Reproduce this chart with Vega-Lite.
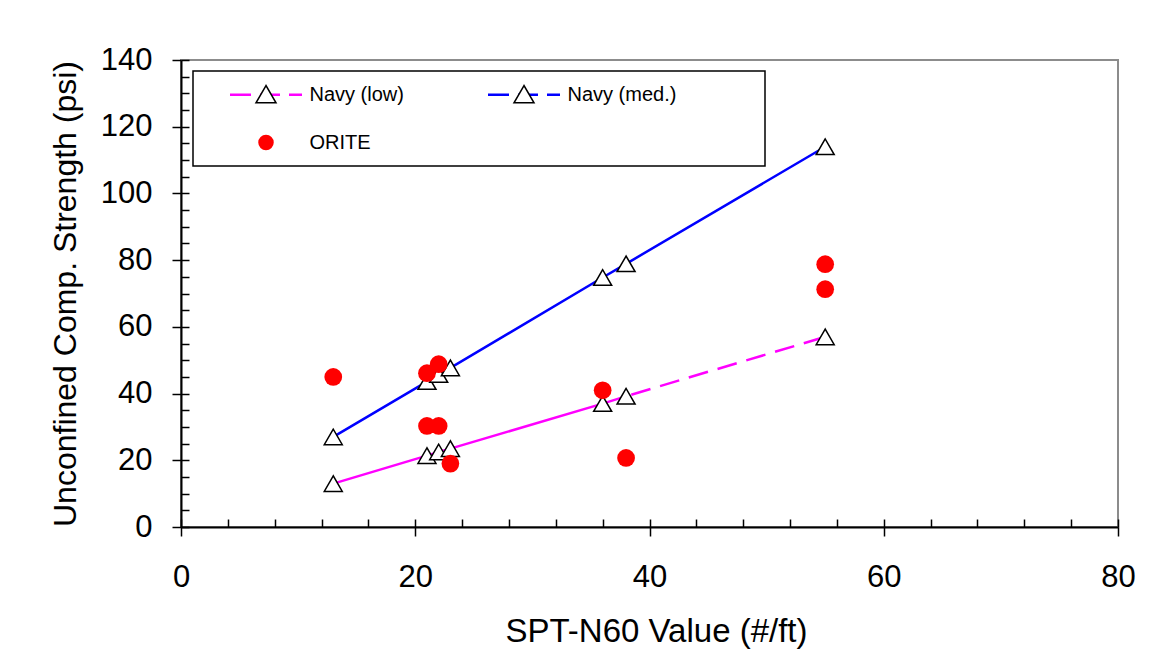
{
  "$schema": "https://vega.github.io/schema/vega-lite/v6.json",
  "width": 937,
  "height": 467,
  "autosize": {"type": "none"},
  "padding": {"left": 181, "top": 60, "right": 38, "bottom": 141},
  "background": "white",
  "config": {
    "view": {"stroke": "#8c8c8c", "strokeWidth": 2},
    "font": "Liberation Sans",
    "axis": {
      "grid": false,
      "labelFont": "Liberation Sans",
      "titleFont": "Liberation Sans",
      "labelColor": "black",
      "titleColor": "black",
      "titleFontWeight": "normal",
      "tickColor": "black",
      "domainColor": "black"
    }
  },
  "data": {
    "values": [
      {"spt": 13, "ucs": 13.0, "series": "Navy (low)"},
      {"spt": 21, "ucs": 21.4, "series": "Navy (low)"},
      {"spt": 22, "ucs": 22.5, "series": "Navy (low)"},
      {"spt": 23, "ucs": 23.5, "series": "Navy (low)"},
      {"spt": 36, "ucs": 37.0, "series": "Navy (low)"},
      {"spt": 38, "ucs": 39.2, "series": "Navy (low)"},
      {"spt": 55, "ucs": 57.0, "series": "Navy (low)"},
      {"spt": 13, "ucs": 27.0, "series": "Navy (med.)"},
      {"spt": 21, "ucs": 43.6, "series": "Navy (med.)"},
      {"spt": 22, "ucs": 45.7, "series": "Navy (med.)"},
      {"spt": 23, "ucs": 47.7, "series": "Navy (med.)"},
      {"spt": 36, "ucs": 74.8, "series": "Navy (med.)"},
      {"spt": 38, "ucs": 78.9, "series": "Navy (med.)"},
      {"spt": 55, "ucs": 114.0, "series": "Navy (med.)"},
      {"spt": 13, "ucs": 45.0, "series": "ORITE"},
      {"spt": 21, "ucs": 46.1, "series": "ORITE"},
      {"spt": 22, "ucs": 48.8, "series": "ORITE"},
      {"spt": 21, "ucs": 30.3, "series": "ORITE"},
      {"spt": 22, "ucs": 30.3, "series": "ORITE"},
      {"spt": 23, "ucs": 19.0, "series": "ORITE"},
      {"spt": 36, "ucs": 41.0, "series": "ORITE"},
      {"spt": 38, "ucs": 20.7, "series": "ORITE"},
      {"spt": 55, "ucs": 78.8, "series": "ORITE"},
      {"spt": 55, "ucs": 71.3, "series": "ORITE"}
    ]
  },
  "resolve": {"axis": {"x": "independent", "y": "independent"}},
  "layer": [
    {
      "transform": [{"filter": "datum.series === 'Navy (med.)'"}],
      "mark": {"type": "line", "strokeWidth": 2.5},
      "encoding": {
        "x": {
          "field": "spt", "type": "quantitative",
          "scale": {"domain": [0, 80], "nice": false, "zero": false},
          "axis": {
            "orient": "bottom", "title": "SPT-N60 Value (#/ft)",
            "values": [0, 20, 40, 60, 80], "format": "d",
            "tickSize": 9, "tickWidth": 1.5, "domainWidth": 2,
            "labelFontSize": 31, "titleFontSize": 33,
            "labelPadding": 26, "titlePadding": 23, "labelFlush": false,
            "titleX": 475
          }
        },
        "y": {
          "field": "ucs", "type": "quantitative",
          "scale": {"domain": [0, 140], "nice": false},
          "axis": {
            "orient": "left", "title": "Unconfined Comp. Strength (psi)",
            "values": [0, 20, 40, 60, 80, 100, 120, 140], "format": "d",
            "tickSize": 9, "tickWidth": 1.5, "domainWidth": 2,
            "labelFontSize": 31, "titleFontSize": 32,
            "labelPadding": 20, "titlePadding": 18
          }
        },
        "color": {
          "field": "series", "type": "nominal",
          "scale": {"domain": ["Navy (low)", "Navy (med.)", "ORITE"], "range": ["#FF00FF", "#0000FF", "#FF0000"]},
          "legend": {
            "title": null, "orient": "none", "legendX": 12, "legendY": 11,
            "direction": "horizontal", "columns": 2, "columnPadding": 54, "rowPadding": 26,
            "padding": 12, "fillColor": "white", "strokeColor": "black",
            "labelFont": "Liberation Sans", "labelFontSize": 20, "labelColor": "black", "labelLimit": 300,
            "symbolSize": 400, "symbolStrokeWidth": 2.5, "symbolOffset": 49.5, "labelOffset": 32,
            "symbolType": "M-6.1,0M-3.6,0H-1.5M-0.6,0H1.4M2.3,0H3.6",
            "gridAlign": "each",
            "encode": {
              "legend": {"update": {"strokeWidth": {"value": 1.5}}},
              "symbols": {
                "update": {
                  "shape": {"signal": "datum.value === 'ORITE' ? 'M-6.1,0M-0.65,0A0.65,0.65 0 1,0 0.65,0A0.65,0.65 0 1,0 -0.65,0Z' : (datum.value === 'Navy (med.)' ? 'M-6.1,0M22.4,0M-3.6,0H-1.5M-0.6,0H1.4M2.3,0H3.6' : 'M-6.1,0M-3.6,0H-1.5M-0.6,0H1.4M2.3,0H3.6')"},
                  "fill": {"signal": "datum.value === 'ORITE' ? '#FF0000' : 'transparent'"},
                  "stroke": {"signal": "datum.value === 'ORITE' ? 'transparent' : (datum.value === 'Navy (low)' ? '#FF00FF' : '#0000FF')"},
                  "strokeWidth": {"value": 2.5},
                  "strokeDash": {"value": []},
                  "opacity": {"value": 1}
                }
              }
            }
          }
        }
      }
    },
    {
      "transform": [{"filter": "datum.series === 'Navy (low)' && datum.spt <= 36"}],
      "mark": {"type": "line", "strokeWidth": 2.5},
      "encoding": {
        "x": {"field": "spt", "type": "quantitative", "axis": null},
        "y": {"field": "ucs", "type": "quantitative", "axis": null},
        "color": {"field": "series", "type": "nominal"}
      }
    },
    {
      "transform": [{"filter": "datum.series === 'Navy (low)' && datum.spt >= 36"}],
      "mark": {"type": "line", "strokeWidth": 2.5, "strokeDash": [20, 10]},
      "encoding": {
        "x": {"field": "spt", "type": "quantitative", "axis": null},
        "y": {"field": "ucs", "type": "quantitative", "axis": null},
        "color": {"field": "series", "type": "nominal"}
      }
    },
    {
      "transform": [{"filter": "datum.series !== 'ORITE'"}],
      "mark": {"type": "point", "filled": true, "fill": "white", "stroke": "black", "strokeWidth": 1.5, "size": 324, "opacity": 1},
      "encoding": {
        "x": {"field": "spt", "type": "quantitative", "axis": null},
        "y": {"field": "ucs", "type": "quantitative", "axis": null},
        "shape": {
          "field": "series", "type": "nominal",
          "scale": {"domain": ["Navy (low)", "Navy (med.)"], "range": ["triangle-up", "triangle-up"]},
          "legend": {
            "title": null, "orient": "none", "legendX": 12, "legendY": 11,
            "direction": "horizontal", "columns": 2, "columnPadding": 153, "rowPadding": 26,
            "padding": 12, "zindex": 2,
            "labelFont": "Liberation Sans", "labelFontSize": 20, "labelLimit": 300,
            "labelExpr": "''",
            "symbolSize": 400, "symbolStrokeWidth": 1.5, "symbolOffset": 50, "labelOffset": 33,
            "gridAlign": "each",
            "encode": {
              "symbols": {
                "update": {
                  "shape": {"signal": "datum.value === 'Navy (low)' ? 'M-6.1,0M13.7,0M0,-0.6L0.65,0.6L-0.65,0.6Z' : 'M-6.1,0M0,-0.6L0.65,0.6L-0.65,0.6Z'"},
                  "fill": {"value": "white"},
                  "stroke": {"value": "black"},
                  "strokeWidth": {"value": 1.5},
                  "opacity": {"value": 1}
                }
              }
            }
          }
        }
      }
    },
    {
      "transform": [{"filter": "datum.series === 'ORITE'"}],
      "mark": {"type": "circle", "size": 314, "opacity": 1},
      "encoding": {
        "x": {
          "field": "spt", "type": "quantitative",
          "axis": {
            "orient": "bottom", "title": null, "labels": false, "domain": false,
            "values": [0, 4, 8, 12, 16, 20, 24, 28, 32, 36, 40, 44, 48, 52, 56, 60, 64, 68, 72, 76, 80],
            "tickSize": -8, "tickWidth": 1.5
          }
        },
        "y": {
          "field": "ucs", "type": "quantitative",
          "axis": {
            "orient": "left", "title": null, "labels": false, "domain": false,
            "values": [0, 5, 10, 15, 20, 25, 30, 35, 40, 45, 50, 55, 60, 65, 70, 75, 80, 85, 90, 95, 100, 105, 110, 115, 120, 125, 130, 135, 140],
            "tickSize": -8, "tickWidth": 1.5
          }
        },
        "color": {"field": "series", "type": "nominal"}
      }
    }
  ]
}
